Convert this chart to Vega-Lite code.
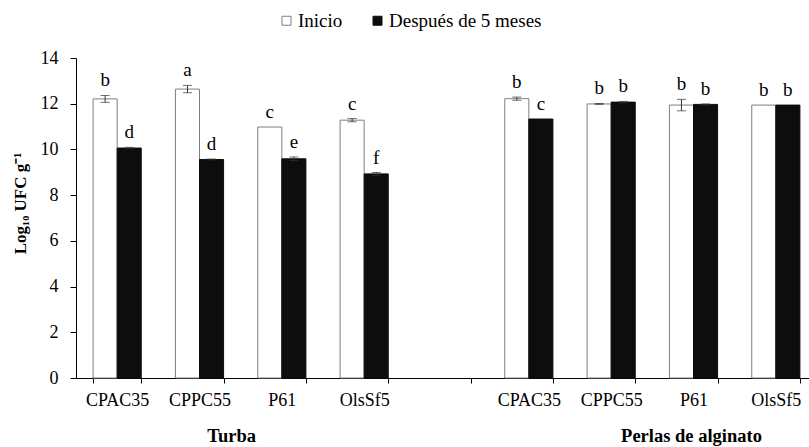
{
  "$schema": "https://vega.github.io/schema/vega-lite/v6.json",
  "width": 733,
  "height": 320,
  "autosize": {"type": "none"},
  "padding": {"left": 76, "top": 58, "right": 0, "bottom": 69},
  "background": "white",
  "config": {
    "font": "Liberation Serif",
    "view": {"stroke": null},
    "axis": {"titleFont": "Liberation Serif", "labelColor": "black", "titleColor": "black", "domainColor": "black", "tickColor": "black", "grid": false}
  },
  "data": {
    "values": [
      {"cat": "T|CPAC35", "period": "Inicio", "value": 12.21, "err": 0.15, "letter": "b"},
      {"cat": "T|CPAC35", "period": "Después de 5 meses", "value": 10.06, "err": 0.03, "letter": "d"},
      {"cat": "T|CPPC55", "period": "Inicio", "value": 12.64, "err": 0.16, "letter": "a"},
      {"cat": "T|CPPC55", "period": "Después de 5 meses", "value": 9.56, "err": 0.02, "letter": "d"},
      {"cat": "T|P61", "period": "Inicio", "value": 10.98, "err": 0, "letter": "c"},
      {"cat": "T|P61", "period": "Después de 5 meses", "value": 9.59, "err": 0.08, "letter": "e"},
      {"cat": "T|OlsSf5", "period": "Inicio", "value": 11.28, "err": 0.07, "letter": "c"},
      {"cat": "T|OlsSf5", "period": "Después de 5 meses", "value": 8.93, "err": 0.06, "letter": "f"},
      {"cat": "A|CPAC35", "period": "Inicio", "value": 12.22, "err": 0.07, "letter": "b"},
      {"cat": "A|CPAC35", "period": "Después de 5 meses", "value": 11.33, "err": 0, "letter": "c"},
      {"cat": "A|CPPC55", "period": "Inicio", "value": 11.99, "err": 0.02, "letter": "b"},
      {"cat": "A|CPPC55", "period": "Después de 5 meses", "value": 12.07, "err": 0.03, "letter": "b"},
      {"cat": "A|P61", "period": "Inicio", "value": 11.94, "err": 0.25, "letter": "b"},
      {"cat": "A|P61", "period": "Después de 5 meses", "value": 11.97, "err": 0.02, "letter": "b"},
      {"cat": "A|OlsSf5", "period": "Inicio", "value": 11.94, "err": 0, "letter": "b"},
      {"cat": "A|OlsSf5", "period": "Después de 5 meses", "value": 11.94, "err": 0, "letter": "b"}
    ]
  },
  "encoding": {
    "x": {
      "field": "cat",
      "type": "nominal",
      "scale": {
        "domain": ["T|CPAC35", "T|CPPC55", "T|P61", "T|OlsSf5", "gap", "A|CPAC35", "A|CPPC55", "A|P61", "A|OlsSf5"],
        "range": [0, 741],
        "paddingInner": 0.415,
        "paddingOuter": 0.2075
      },
      "axis": {
        "title": null,
        "labelAngle": 0,
        "labelExpr": "datum.value == 'gap' ? '' : split(datum.value, '|')[1]",
        "labelFont": "serif",
        "labelFontSize": 18,
        "labelPadding": 8,
        "tickBand": "extent",
        "tickSize": 5,
        "domainWidth": 1
      }
    }
  },
  "layer": [
    {
      "mark": {"type": "bar", "strokeWidth": 1},
      "encoding": {
        "xOffset": {"field": "period", "type": "nominal", "sort": ["Inicio", "Después de 5 meses"]},
        "y": {
          "field": "value",
          "type": "quantitative",
          "scale": {"domain": [0, 14]},
          "axis": {
            "title": "Log₁₀ UFC g⁻¹",
            "titleFont": "Liberation Serif",
            "titleFontSize": 17,
            "titleFontWeight": "bold",
            "titleAngle": 270,
            "titleX": -56,
            "titleY": 145,
            "titleAlign": "center",
            "titleBaseline": "middle",
            "values": [0, 2, 4, 6, 8, 10, 12, 14],
            "labelFont": "Times New Roman",
            "labelFontSize": 18,
            "labelPadding": 12,
            "tickSize": 6
          }
        },
        "fill": {
          "field": "period",
          "type": "nominal",
          "scale": {"domain": ["Inicio", "Después de 5 meses"], "range": ["white", "#0d0d0d"]},
          "legend": {
            "title": null,
            "orient": "none",
            "direction": "horizontal",
            "legendX": 201,
            "legendY": -47,
            "symbolType": "square",
            "symbolSize": 81,
            "symbolStrokeColor": "black",
            "symbolStrokeWidth": 1,
            "labelFontSize": 19,
            "labelFont": "Liberation Serif, serif",
            "labelColor": "black",
            "labelOffset": 2,
            "columnPadding": 25
          }
        },
        "stroke": {
          "field": "period",
          "type": "nominal",
          "scale": {"domain": ["Inicio", "Después de 5 meses"], "range": ["#7f7f7f", "#0d0d0d"]},
          "legend": null
        }
      }
    },
    {
      "transform": [
        {"filter": "datum.err > 0"},
        {"calculate": "datum.value - datum.err", "as": "lo"},
        {"calculate": "datum.value + datum.err", "as": "hi"}
      ],
      "mark": {"type": "rule", "color": "#333333", "strokeWidth": 1},
      "encoding": {
        "xOffset": {"field": "period", "type": "nominal", "sort": ["Inicio", "Después de 5 meses"]},
        "y": {"field": "lo", "type": "quantitative"},
        "y2": {"field": "hi"}
      }
    },
    {
      "transform": [
        {"filter": "datum.err > 0"},
        {"calculate": "datum.value - datum.err", "as": "lo"},
        {"calculate": "datum.value + datum.err", "as": "hi"},
        {"fold": ["lo", "hi"], "as": ["end", "ypos"]}
      ],
      "mark": {"type": "tick", "color": "#333333", "thickness": 1, "size": 9, "orient": "horizontal"},
      "encoding": {
        "xOffset": {"field": "period", "type": "nominal", "sort": ["Inicio", "Después de 5 meses"]},
        "y": {"field": "ypos", "type": "quantitative"}
      }
    },
    {
      "transform": [
        {"calculate": "datum.value + datum.err", "as": "hi"}
      ],
      "mark": {"type": "text", "baseline": "alphabetic", "dy": -9, "fontSize": 19, "font": "Liberation Serif", "color": "black"},
      "encoding": {
        "xOffset": {"field": "period", "type": "nominal", "sort": ["Inicio", "Después de 5 meses"]},
        "y": {"field": "hi", "type": "quantitative"},
        "text": {"field": "letter"}
      }
    },
    {
      "data": {"values": [{"cat": "T|CPPC55", "group": "Turba"}]},
      "mark": {"type": "text", "fontSize": 18.5, "fontWeight": "bold", "font": "Liberation Serif", "color": "black", "baseline": "middle", "dy": 58, "dx": 8},
      "encoding": {
        "x": {"field": "cat", "type": "nominal", "bandPosition": 1},
        "y": {"datum": 0, "type": "quantitative"},
        "text": {"field": "group"}
      }
    },
    {
      "data": {"values": [{"cat": "A|P61", "group": "Perlas de alginato"}]},
      "mark": {"type": "text", "fontSize": 18.5, "fontWeight": "bold", "font": "Liberation Serif", "color": "black", "baseline": "middle", "dy": 58, "dx": -2},
      "encoding": {
        "x": {"field": "cat", "type": "nominal"},
        "y": {"datum": 0, "type": "quantitative"},
        "text": {"field": "group"}
      }
    }
  ]
}
